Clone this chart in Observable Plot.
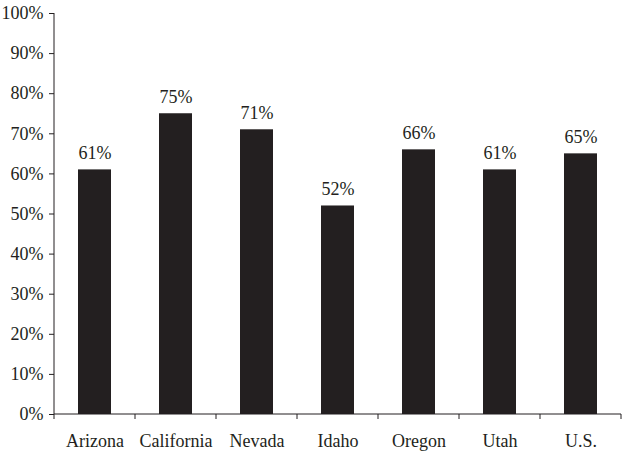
<!DOCTYPE html>
<html>
<head>
<meta charset="utf-8">
<script src="https://cdn.jsdelivr.net/npm/d3@7"></script>
<script src="https://cdn.jsdelivr.net/npm/@observablehq/plot@0.6"></script>
<style>
  html, body { margin: 0; padding: 0; background: #fff; }
  #chart svg { display: block; }
</style>
</head>
<body>
<div id="chart"></div>
<script>
const states = ["Arizona", "California", "Nevada", "Idaho", "Oregon", "Utah", "U.S."];
const shares = [0.61, 0.75, 0.71, 0.52, 0.66, 0.61, 0.65];
const yTicks = [0, 0.1, 0.2, 0.3, 0.4, 0.5, 0.6, 0.7, 0.8, 0.9, 1.0];

const data = states.map((s, i) => ({state: s, share: shares[i]}));
const ink = "#231f20";
const font = "'Liberation Serif', 'Times New Roman', serif";
const pct = d => Math.round(d * 100) + "%";

// x-axis tick marks at band boundaries, derived from the band scale
const boundaryTicks = (index, scales, values, dims) => {
  const x = scales.x;
  const step = x.step ? x.step() : (x.bandwidth() / (1 - 0.59));
  const g = d3.create("svg:g");
  const y0 = dims.height - dims.marginBottom;
  const bounds = states.map(s => scales.x(s) - (step - x.bandwidth()) / 2);
  bounds.push(bounds[bounds.length - 1] + step);
  for (const b of bounds) {
    g.append("line").attr("x1", b).attr("x2", b).attr("y1", y0).attr("y2", y0 + 5)
      .attr("stroke", ink).attr("stroke-width", 1);
  }
  g.append("line").attr("x1", bounds[0]).attr("x2", bounds[bounds.length - 1])
    .attr("y1", y0).attr("y2", y0).attr("stroke", ink);
  // vertical y-axis line
  g.append("line").attr("x1", bounds[0]).attr("x2", bounds[0])
    .attr("y1", scales.y(1)).attr("y2", scales.y(0)).attr("stroke", ink);
  return g.node();
};

const chart = Plot.plot({
  width: 624,
  height: 452,
  marginLeft: 54,
  marginRight: 3,
  marginTop: 13,
  marginBottom: 38,
  style: {fontFamily: font, fontSize: "18px", color: ink, background: "#fff"},
  x: {domain: states, paddingInner: 0.59, paddingOuter: 0.295, label: null},
  y: {domain: [0, 1], label: null},
  marks: [
    Plot.barY(data, {x: "state", y: "share", fill: ink}),
    Plot.text(data, {x: "state", y: "share", text: d => pct(d.share), dy: -17, fill: ink, fontSize: 18}),
    Plot.axisY({ticks: yTicks, tickFormat: pct, tickSize: 5, tickPadding: 6, stroke: ink, fill: ink, fontSize: 18, label: null}),
    Plot.axisX({tickSize: 0, tickPadding: 20, fill: ink, fontSize: 18, label: null}),
    boundaryTicks
  ]
});

document.getElementById("chart").appendChild(chart);
</script>
</body>
</html>
